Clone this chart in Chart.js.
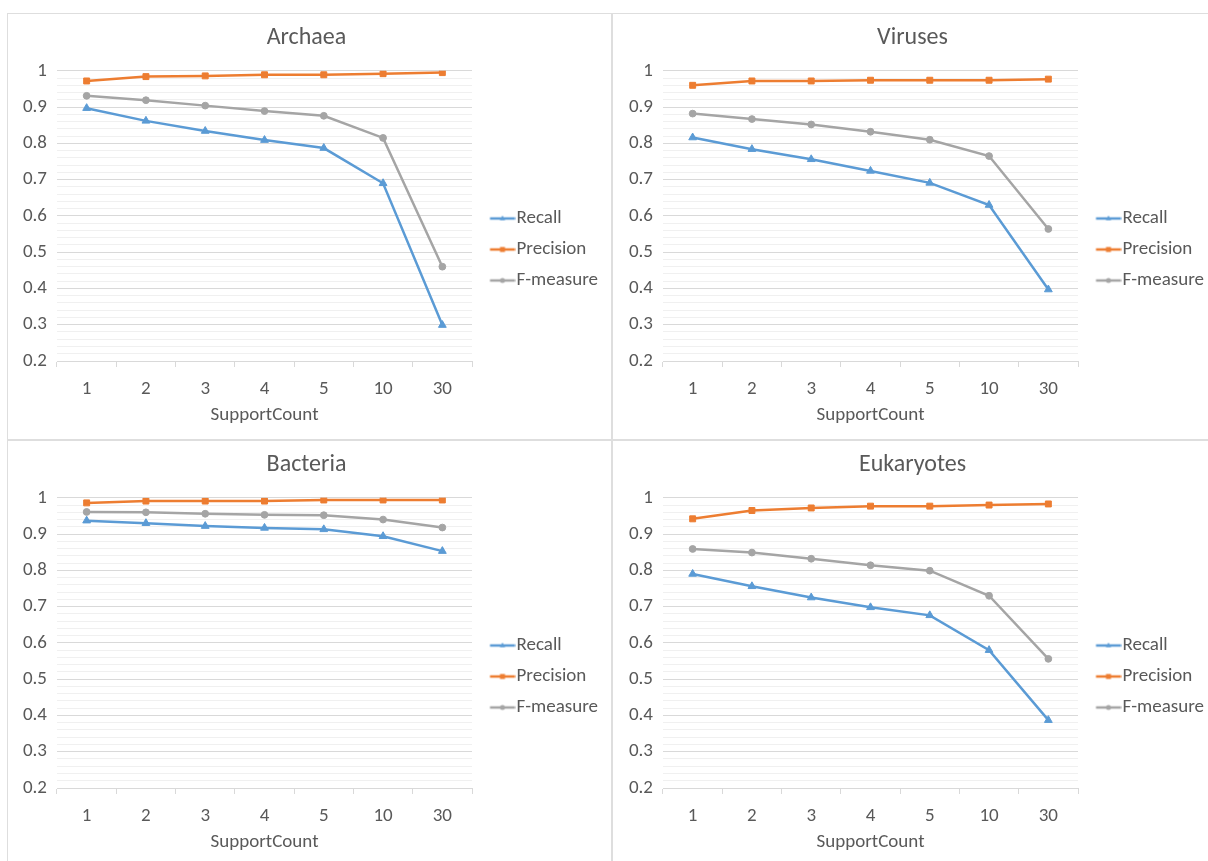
<!DOCTYPE html>
<html>
<head>
<meta charset="utf-8">
<title>SupportCount</title>
<script src="https://cdn.jsdelivr.net/npm/chart.js@4.4.1/dist/chart.umd.min.js"></script>
<style>
    html, body { margin: 0; padding: 0; background: #fff; overflow: hidden; }
    body { width: 1208px; height: 861px; position: relative; }
    .panel { position: absolute; width: 605px; height: 427px; }
    .panel canvas { display: block; }
    .rule { position: absolute; background: #dedede; }
</style>
</head>
<body>
<div class="rule" style="left:7px;top:13px;width:1201px;height:1px"></div>
<div class="rule" style="left:7px;top:439px;width:1201px;height:2px"></div>
<div class="rule" style="left:7px;top:13px;width:1px;height:848px"></div>
<div class="rule" style="left:611px;top:13px;width:2px;height:848px"></div>

<div class="panel" style="left:7px;top:13px"><canvas id="archaea" width="605" height="427"></canvas></div>
<div class="panel" style="left:613px;top:13px"><canvas id="viruses" width="605" height="427"></canvas></div>
<div class="panel" style="left:7px;top:440px"><canvas id="bacteria" width="605" height="427"></canvas></div>
<div class="panel" style="left:613px;top:440px"><canvas id="eukaryotes" width="605" height="427"></canvas></div>

<script>
/* ------------------------------------------------------------------ *
 |  Data (SupportCount on x)
 * ------------------------------------------------------------------ */
const supportCounts = ['1', '2', '3', '4', '5', '10', '30'];
const seriesNames = ['Recall', 'Precision', 'F-measure'];

const archaeaRecall    = [0.897, 0.862, 0.834, 0.809, 0.787, 0.690, 0.299];
const archaeaPrecision = [0.972, 0.984, 0.986, 0.989, 0.989, 0.992, 0.995];
const archaeaFmeasure  = [0.931, 0.919, 0.904, 0.889, 0.876, 0.815, 0.460];

const virusesRecall    = [0.816, 0.784, 0.756, 0.724, 0.691, 0.630, 0.397];
const virusesPrecision = [0.960, 0.972, 0.972, 0.974, 0.974, 0.974, 0.977];
const virusesFmeasure  = [0.882, 0.867, 0.852, 0.832, 0.810, 0.765, 0.564];

const bacteriaRecall    = [0.937, 0.930, 0.922, 0.917, 0.913, 0.894, 0.853];
const bacteriaPrecision = [0.986, 0.991, 0.991, 0.991, 0.994, 0.994, 0.994];
const bacteriaFmeasure  = [0.961, 0.960, 0.956, 0.953, 0.952, 0.940, 0.918];

const eukaryotesRecall    = [0.790, 0.756, 0.725, 0.698, 0.676, 0.580, 0.387];
const eukaryotesPrecision = [0.942, 0.965, 0.972, 0.977, 0.977, 0.980, 0.983];
const eukaryotesFmeasure  = [0.859, 0.849, 0.832, 0.814, 0.799, 0.730, 0.556];

const yMin = 0.2;
const yMax = 1.0;
const yMinorStep = 0.02;

/* Excel-ish look */
const COLORS = ['#5b9bd5', '#ed7d31', '#a5a5a5'];
const MARKERS = ['triangle', 'rect', 'circle'];
const RADII = [4.5, 4.2, 3.4];
const TEXT = '#595959';

Chart.defaults.font.family = "Carlito, Lato, 'Liberation Sans', sans-serif";
Chart.defaults.color = TEXT;

/* Small line+marker swatch used as legend point style */
function legendIcon(color, style) {
    const c = document.createElement('canvas');
    c.width = 40;
    c.height = 12;
    const g = c.getContext('2d');
    g.strokeStyle = color;
    g.fillStyle = color;
    g.lineWidth = 2.5;
    g.beginPath();
    g.moveTo(14.5, 6);
    g.lineTo(39.5, 6);
    g.stroke();
    const x = 27, y = 6, r = 3;
    g.beginPath();
    if (style === 'triangle') {
        g.moveTo(x, y - r);
        g.lineTo(x - r * 0.9, y + r * 0.6);
        g.lineTo(x + r * 0.9, y + r * 0.6);
        g.closePath();
    } else if (style === 'rect') {
        g.rect(x - 2.5, y - 2.5, 5, 5);
    } else {
        g.arc(x, y, 2.5, 0, Math.PI * 2);
    }
    g.fill();
    return c;
}
const legendIcons = COLORS.map((c, i) => legendIcon(c, MARKERS[i]));

const isMajor = (v) => Math.round(v * 100) % 10 === 0;

function renderPanel(id, title, recall, precision, fmeasure) {
    const ctx = document.getElementById(id).getContext('2d');
    const values = [recall, precision, fmeasure];

    return new Chart(ctx, {
        type: 'line',
        data: {
            labels: supportCounts,
            datasets: values.map((data, i) => ({
                label: seriesNames[i],
                data,
                borderColor: COLORS[i],
                backgroundColor: COLORS[i],
                borderWidth: 2.5,
                pointStyle: MARKERS[i],
                pointRadius: RADII[i],
                pointBorderWidth: 1,
                tension: 0,
                fill: false,
            })),
        },
        options: {
            responsive: false,
            animation: false,
            layout: { padding: { left: 0, right: 6, top: 0, bottom: 0 } },
            plugins: {
                title: {
                    display: true,
                    text: title,
                    color: TEXT,
                    font: { size: 24, weight: 'normal' },
                    padding: { top: 11, bottom: 18 },
                },
                legend: {
                    position: 'right',
                    maxWidth: 134,
                    // blank legend title only pushes the items down, like Excel's legend
                    title: { display: true, text: ' ', font: { size: 10 }, padding: { top: 17, bottom: 17 } },
                    labels: {
                        color: TEXT,
                        font: { size: 19 },
                        usePointStyle: true,
                        pointStyleWidth: 23,
                        padding: 12,
                        generateLabels(chart) {
                            const items = Chart.defaults.plugins.legend.labels.generateLabels(chart);
                            items.forEach((it, i) => { it.pointStyle = legendIcons[i]; });
                            return items;
                        },
                    },
                },
                tooltip: { enabled: false },
            },
            scales: {
                x: {
                    offset: true,
                    afterFit(scale) { scale.height = 79; },
                    grid: {
                        offset: true,
                        drawOnChartArea: false,
                        drawTicks: true,
                        tickLength: 6,
                        color: '#d9d9d9',
                    },
                    border: { display: true, color: '#d9d9d9' },
                    ticks: { color: TEXT, font: { size: 19 }, padding: 11, maxRotation: 0 },
                    title: {
                        display: true,
                        text: 'SupportCount',
                        color: TEXT,
                        font: { size: 19 },
                        padding: { top: 4, bottom: 13 },
                    },
                },
                y: {
                    min: yMin,
                    max: yMax,
                    afterFit(scale) { scale.width = 50; },
                    border: { display: false },
                    grid: {
                        drawTicks: false,
                        color: (c) => (isMajor(c.tick.value) ? '#d9d9d9' : '#f0f0f0'),
                    },
                    ticks: {
                        stepSize: yMinorStep,
                        autoSkip: false,
                        padding: 10,
                        color: TEXT,
                        font: { size: 19 },
                        callback: (v) => (isMajor(v) ? String(Math.round(v * 10) / 10) : ''),
                    },
                },
            },
        },
    });
}

renderPanel('archaea', 'Archaea', archaeaRecall, archaeaPrecision, archaeaFmeasure);
renderPanel('viruses', 'Viruses', virusesRecall, virusesPrecision, virusesFmeasure);
renderPanel('bacteria', 'Bacteria', bacteriaRecall, bacteriaPrecision, bacteriaFmeasure);
renderPanel('eukaryotes', 'Eukaryotes', eukaryotesRecall, eukaryotesPrecision, eukaryotesFmeasure);
</script>
</body>
</html>
